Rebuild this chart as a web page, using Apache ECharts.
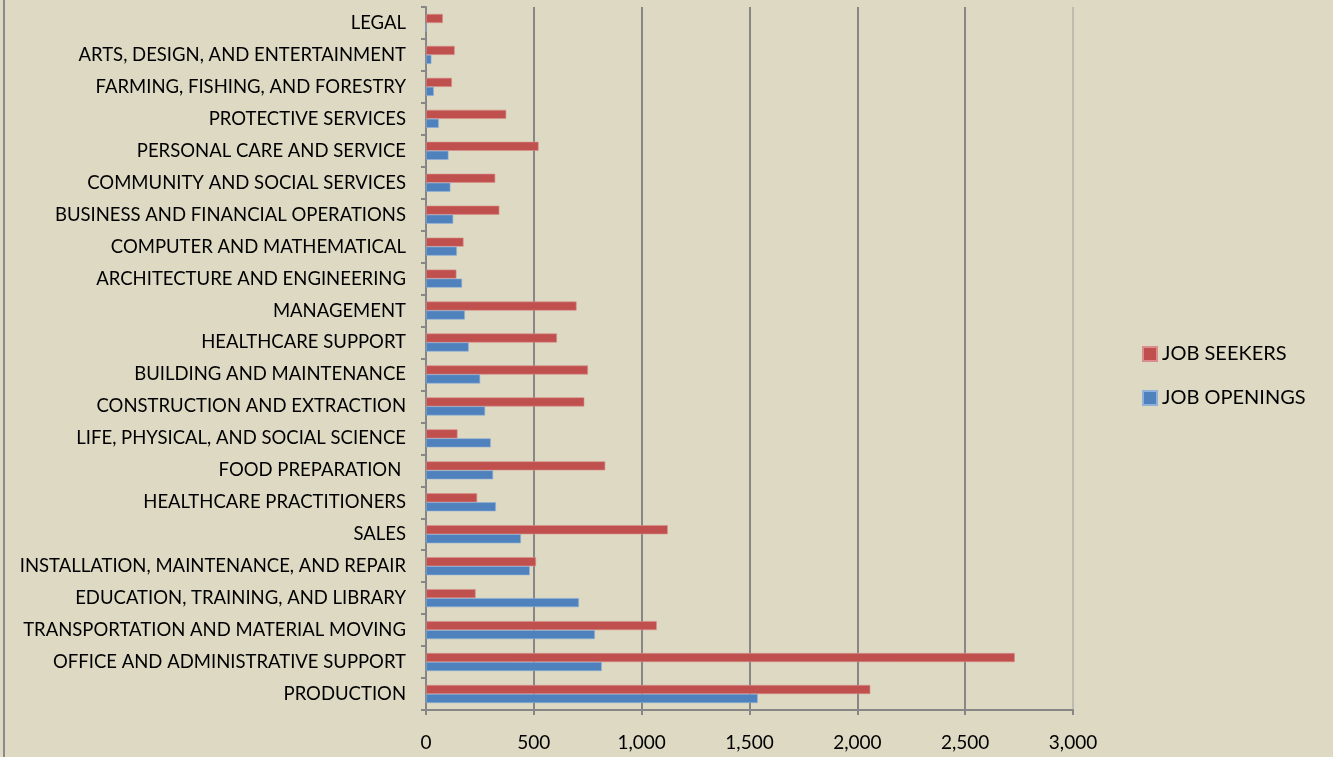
<!DOCTYPE html>
<html><head><meta charset="utf-8">
<script src="https://cdn.jsdelivr.net/npm/echarts@6/dist/echarts.min.js"></script>
<style>html,body{margin:0;padding:0;background:#DDD9C3;}#c{width:1333px;height:757px;}</style>
</head><body><div id="c"></div>
<script>
const categories = ["PRODUCTION","OFFICE AND ADMINISTRATIVE SUPPORT","TRANSPORTATION AND MATERIAL MOVING","EDUCATION, TRAINING, AND LIBRARY","INSTALLATION, MAINTENANCE, AND REPAIR","SALES","HEALTHCARE PRACTITIONERS","FOOD PREPARATION ","LIFE, PHYSICAL, AND SOCIAL SCIENCE","CONSTRUCTION AND EXTRACTION","BUILDING AND MAINTENANCE","HEALTHCARE SUPPORT","MANAGEMENT","ARCHITECTURE AND ENGINEERING","COMPUTER AND MATHEMATICAL","BUSINESS AND FINANCIAL OPERATIONS","COMMUNITY AND SOCIAL SERVICES","PERSONAL CARE AND SERVICE","PROTECTIVE SERVICES","FARMING, FISHING, AND FORESTRY","ARTS, DESIGN, AND ENTERTAINMENT","LEGAL"];
const jobSeekers = [2060,2730,1070,230,510,1121,237,831,146,734,751,607,698,141,174,340,321,522,372,120,133,78];
const jobOpenings = [1538,815,783,709,481,440,324,311,300,274,251,198,180,167,143,126,113,104,59,36,25,0];
const xTicks = [0,500,1000,1500,2000,2500,3000];
const FONT = 'Lato';
const G = '#878787';
const chart = echarts.init(document.getElementById('c'));
chart.setOption({
  backgroundColor:'#DDD9C3',
  animation:false,
  grid:{left:426,right:260,top:7,bottom:47,containLabel:false},
  legend:{orient:'vertical',left:1137,top:339,itemWidth:14,itemHeight:14,itemGap:24,icon:'rect',
    textStyle:{fontFamily:FONT,fontSize:20,color:'#000'},data:['JOB SEEKERS','JOB OPENINGS']},
  xAxis:{type:'value',min:0,max:3000,interval:500,
    axisLine:{show:true,lineStyle:{color:G,width:2}},
    axisTick:{show:true,length:5,lineStyle:{color:G,width:2}},
    splitLine:{show:true,lineStyle:{color:[G,G,G,G,G,G,'#BEBCAE'],width:2}},
    axisLabel:{fontFamily:FONT,fontSize:19,color:'#000',margin:23,
      formatter:v=>xTicks.includes(v)?v.toLocaleString('en-US'):''}},
  yAxis:{type:'category',data:categories,
    axisLine:{show:true,lineStyle:{color:G,width:2}},
    axisTick:{show:true,length:5,lineStyle:{color:G,width:2}},
    axisLabel:{fontFamily:FONT,fontSize:18.5,color:'#000',margin:20,padding:[3,0,0,0]}},
  series:[
    {name:'JOB SEEKERS',type:'bar',data:jobSeekers,barWidth:9,barGap:'0%',
      itemStyle:{color:'#C0504D',borderColor:'#D98E8C',borderWidth:0.6}},
    {name:'JOB OPENINGS',type:'bar',data:jobOpenings,barWidth:9,barGap:'0%',
      itemStyle:{color:'#4F81BD',borderColor:'#8FB0D8',borderWidth:0.6}}
  ],
  graphic:[{type:'line',shape:{x1:4,y1:0,x2:4,y2:757},style:{stroke:'#8a8a8a',lineWidth:2}}]
});
</script></body></html>
